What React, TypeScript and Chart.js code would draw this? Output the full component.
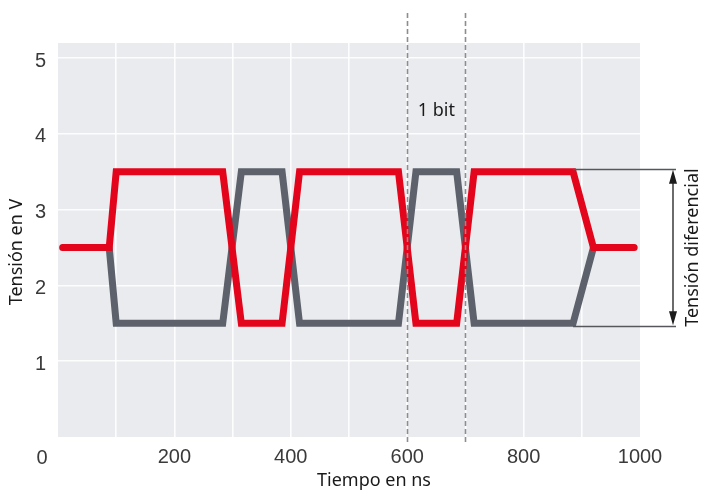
import React, { useEffect, useRef } from "react";
import { Chart, registerables } from "chart.js";

Chart.register(...registerables);

// Positive line (red) and negative line (grey) of the differential signal
const timeRed = [8, 88, 100, 283, 315, 385, 415, 585, 615, 685, 715, 885, 920, 990];
const voltRed = [2.5, 2.5, 3.5, 3.5, 1.5, 1.5, 3.5, 3.5, 1.5, 1.5, 3.5, 3.5, 2.5, 2.5];
const timeGrey = [88, 100, 283, 315, 385, 415, 585, 615, 685, 715, 885, 920];
const voltGrey = [2.5, 1.5, 1.5, 3.5, 3.5, 1.5, 1.5, 3.5, 3.5, 1.5, 1.5, 2.5];

// Axis ticks
const xTickLabels = [200, 400, 600, 800, 1000];
const yTickValues = [0, 1, 2, 3, 4, 5];

// Annotations
const bitMarkers = [600, 700];
const bitLabel = "1 bit";
const bitLabelLevel = 4.3;
const diffLevels = [3.5, 1.5];
const diffStartTime = 885;
const diffLabel = "Tensión diferencial";
const xTitle = "Tiempo en ns";
const yTitle = "Tensión en V";

const RED = "#e3051b";
const GREY = "#5c616b";
const BG = "#eaebee";
const TICK_FONT = "'Liberation Sans'";
const TEXT_FONT = "'Noto Sans'";

const overlay = {
  id: "overlay",
  beforeDraw(chart: any) {
    const { ctx, chartArea: a } = chart;
    ctx.save();
    ctx.fillStyle = BG;
    ctx.fillRect(a.left, a.top, a.right - a.left, a.bottom - a.top);
    ctx.restore();
  },
  afterDatasetsDraw(chart: any) {
    const { ctx, chartArea: a, scales } = chart;
    const xs = scales.x;
    const ys = scales.y;
    ctx.save();
    // dashed bit markers
    ctx.strokeStyle = "#8a8d93";
    ctx.lineWidth = 1.6;
    ctx.setLineDash([5, 3]);
    bitMarkers.forEach((t) => {
      const px = Math.round(xs.getPixelForValue(t)) + 0.5;
      ctx.beginPath();
      ctx.moveTo(px, a.top - 30);
      ctx.lineTo(px, a.bottom + 5);
      ctx.stroke();
    });
    ctx.setLineDash([]);
    // 1 bit label
    ctx.fillStyle = "#1a1a1a";
    ctx.font = `18px ${TEXT_FONT}`;
    ctx.textAlign = "center";
    ctx.textBaseline = "middle";
    const mid = (xs.getPixelForValue(bitMarkers[0]) + xs.getPixelForValue(bitMarkers[1])) / 2;
    ctx.fillText(bitLabel, mid, ys.getPixelForValue(bitLabelLevel));

    // differential voltage annotation
    const yTop = ys.getPixelForValue(diffLevels[0]) - 3;
    const yBot = ys.getPixelForValue(diffLevels[1]) + 3;
    const x0 = xs.getPixelForValue(diffStartTime);
    const xEnd = a.right + 36;
    const xArrow = a.right + 33;
    ctx.strokeStyle = "#55575c";
    ctx.lineWidth = 1.3;
    ctx.beginPath();
    ctx.moveTo(x0, Math.round(yTop) + 0.5);
    ctx.lineTo(xEnd, Math.round(yTop) + 0.5);
    ctx.moveTo(x0, Math.round(yBot) + 0.5);
    ctx.lineTo(xEnd, Math.round(yBot) + 0.5);
    ctx.stroke();
    ctx.strokeStyle = "#1c1c1c";
    ctx.beginPath();
    ctx.moveTo(xArrow, yTop + 6);
    ctx.lineTo(xArrow, yBot - 6);
    ctx.stroke();
    ctx.fillStyle = "#1c1c1c";
    ctx.beginPath();
    ctx.moveTo(xArrow, yTop + 1);
    ctx.lineTo(xArrow - 4, yTop + 15);
    ctx.lineTo(xArrow + 4, yTop + 15);
    ctx.closePath();
    ctx.fill();
    ctx.beginPath();
    ctx.moveTo(xArrow, yBot - 1);
    ctx.lineTo(xArrow - 4, yBot - 15);
    ctx.lineTo(xArrow + 4, yBot - 15);
    ctx.closePath();
    ctx.fill();
    // rotated label
    ctx.save();
    ctx.translate(a.right + 53, (yTop + yBot) / 2);
    ctx.rotate(-Math.PI / 2);
    ctx.font = `18px ${TEXT_FONT}`;
    ctx.fillStyle = "#1a1a1a";
    ctx.textAlign = "center";
    ctx.textBaseline = "middle";
    ctx.fillText(diffLabel, 0, 0);
    ctx.restore();

    // origin "0" label
    ctx.font = `20px ${TICK_FONT}`;
    ctx.fillStyle = "#3a3a3a";
    ctx.textAlign = "center";
    ctx.textBaseline = "middle";
    ctx.fillText("0", a.left - 16, a.bottom + 21);

    // axis titles
    ctx.font = `18px ${TEXT_FONT}`;
    ctx.fillStyle = "#1a1a1a";
    ctx.fillText(xTitle, (a.left + a.right) / 2 + 25, a.bottom + 44);
    ctx.save();
    ctx.translate(a.left - 41, (a.top + a.bottom) / 2 + 12);
    ctx.rotate(-Math.PI / 2);
    ctx.fillText(yTitle, 0, 0);
    ctx.restore();
    ctx.restore();
  },
};

export default function App() {
  const ref = useRef<HTMLCanvasElement>(null);
  useEffect(() => {
    document.body.style.margin = "0";
    const chart = new Chart(ref.current!, {
      type: "line",
      data: {
        datasets: [
          {
            label: "Red",
            data: timeRed.map((t, i) => ({ x: t, y: voltRed[i] })),
            borderColor: RED,
            borderWidth: 7,
            borderCapStyle: "round",
            borderJoinStyle: "miter",
            pointRadius: 0,
            tension: 0,
          },
          {
            label: "Grey",
            data: timeGrey.map((t, i) => ({ x: t, y: voltGrey[i] })),
            borderColor: GREY,
            borderWidth: 7,
            borderCapStyle: "round",
            borderJoinStyle: "miter",
            pointRadius: 0,
            tension: 0,
          },
        ],
      },
      options: {
        animation: false,
        responsive: false,
        maintainAspectRatio: false,
        layout: { padding: { left: 0, top: 43, right: 61, bottom: 0 } },
        plugins: { legend: { display: false }, tooltip: { enabled: false } },
        scales: {
          x: {
            type: "linear",
            min: 0,
            max: 1000,
            afterFit: (s: any) => {
              s.height = 55;
            },
            border: { display: false },
            grid: {
              drawTicks: false,
              lineWidth: 1.6,
              color: (c: any) =>
                c.tick && (c.tick.value === 0 || c.tick.value === 1000) ? "rgba(0,0,0,0)" : "rgba(255,255,255,0.9)",
            },
            ticks: {
              stepSize: 100,
              padding: 8,
              maxRotation: 0,
              autoSkip: false,
              color: "#3a3a3a",
              font: { family: TICK_FONT, size: 20 },
              callback: (v: any) => (xTickLabels.includes(Number(v)) ? String(v) : ""),
            },
          },
          y: {
            type: "linear",
            min: 0,
            max: 5.2,
            afterFit: (s: any) => {
              s.width = 58;
            },
            afterBuildTicks: (s: any) => {
              s.ticks = yTickValues.map((v) => ({ value: v }));
            },
            border: { display: false },
            grid: {
              drawTicks: false,
              lineWidth: 1.6,
              color: (c: any) => (c.tick && c.tick.value === 0 ? "rgba(0,0,0,0)" : "rgba(255,255,255,0.9)"),
            },
            ticks: {
              padding: 12,
              labelOffset: 3,
              color: "#3a3a3a",
              font: { family: TICK_FONT, size: 20 },
              callback: (v: any) => (Number(v) === 0 ? "" : String(v)),
            },
          },
        },
      },
      plugins: [overlay],
    } as any);
    return () => chart.destroy();
  }, []);
  return (
    <div style={{ width: 701, height: 492, background: "#ffffff" }}>
      <canvas ref={ref} width={701} height={492} style={{ display: "block" }} />
    </div>
  );
}
